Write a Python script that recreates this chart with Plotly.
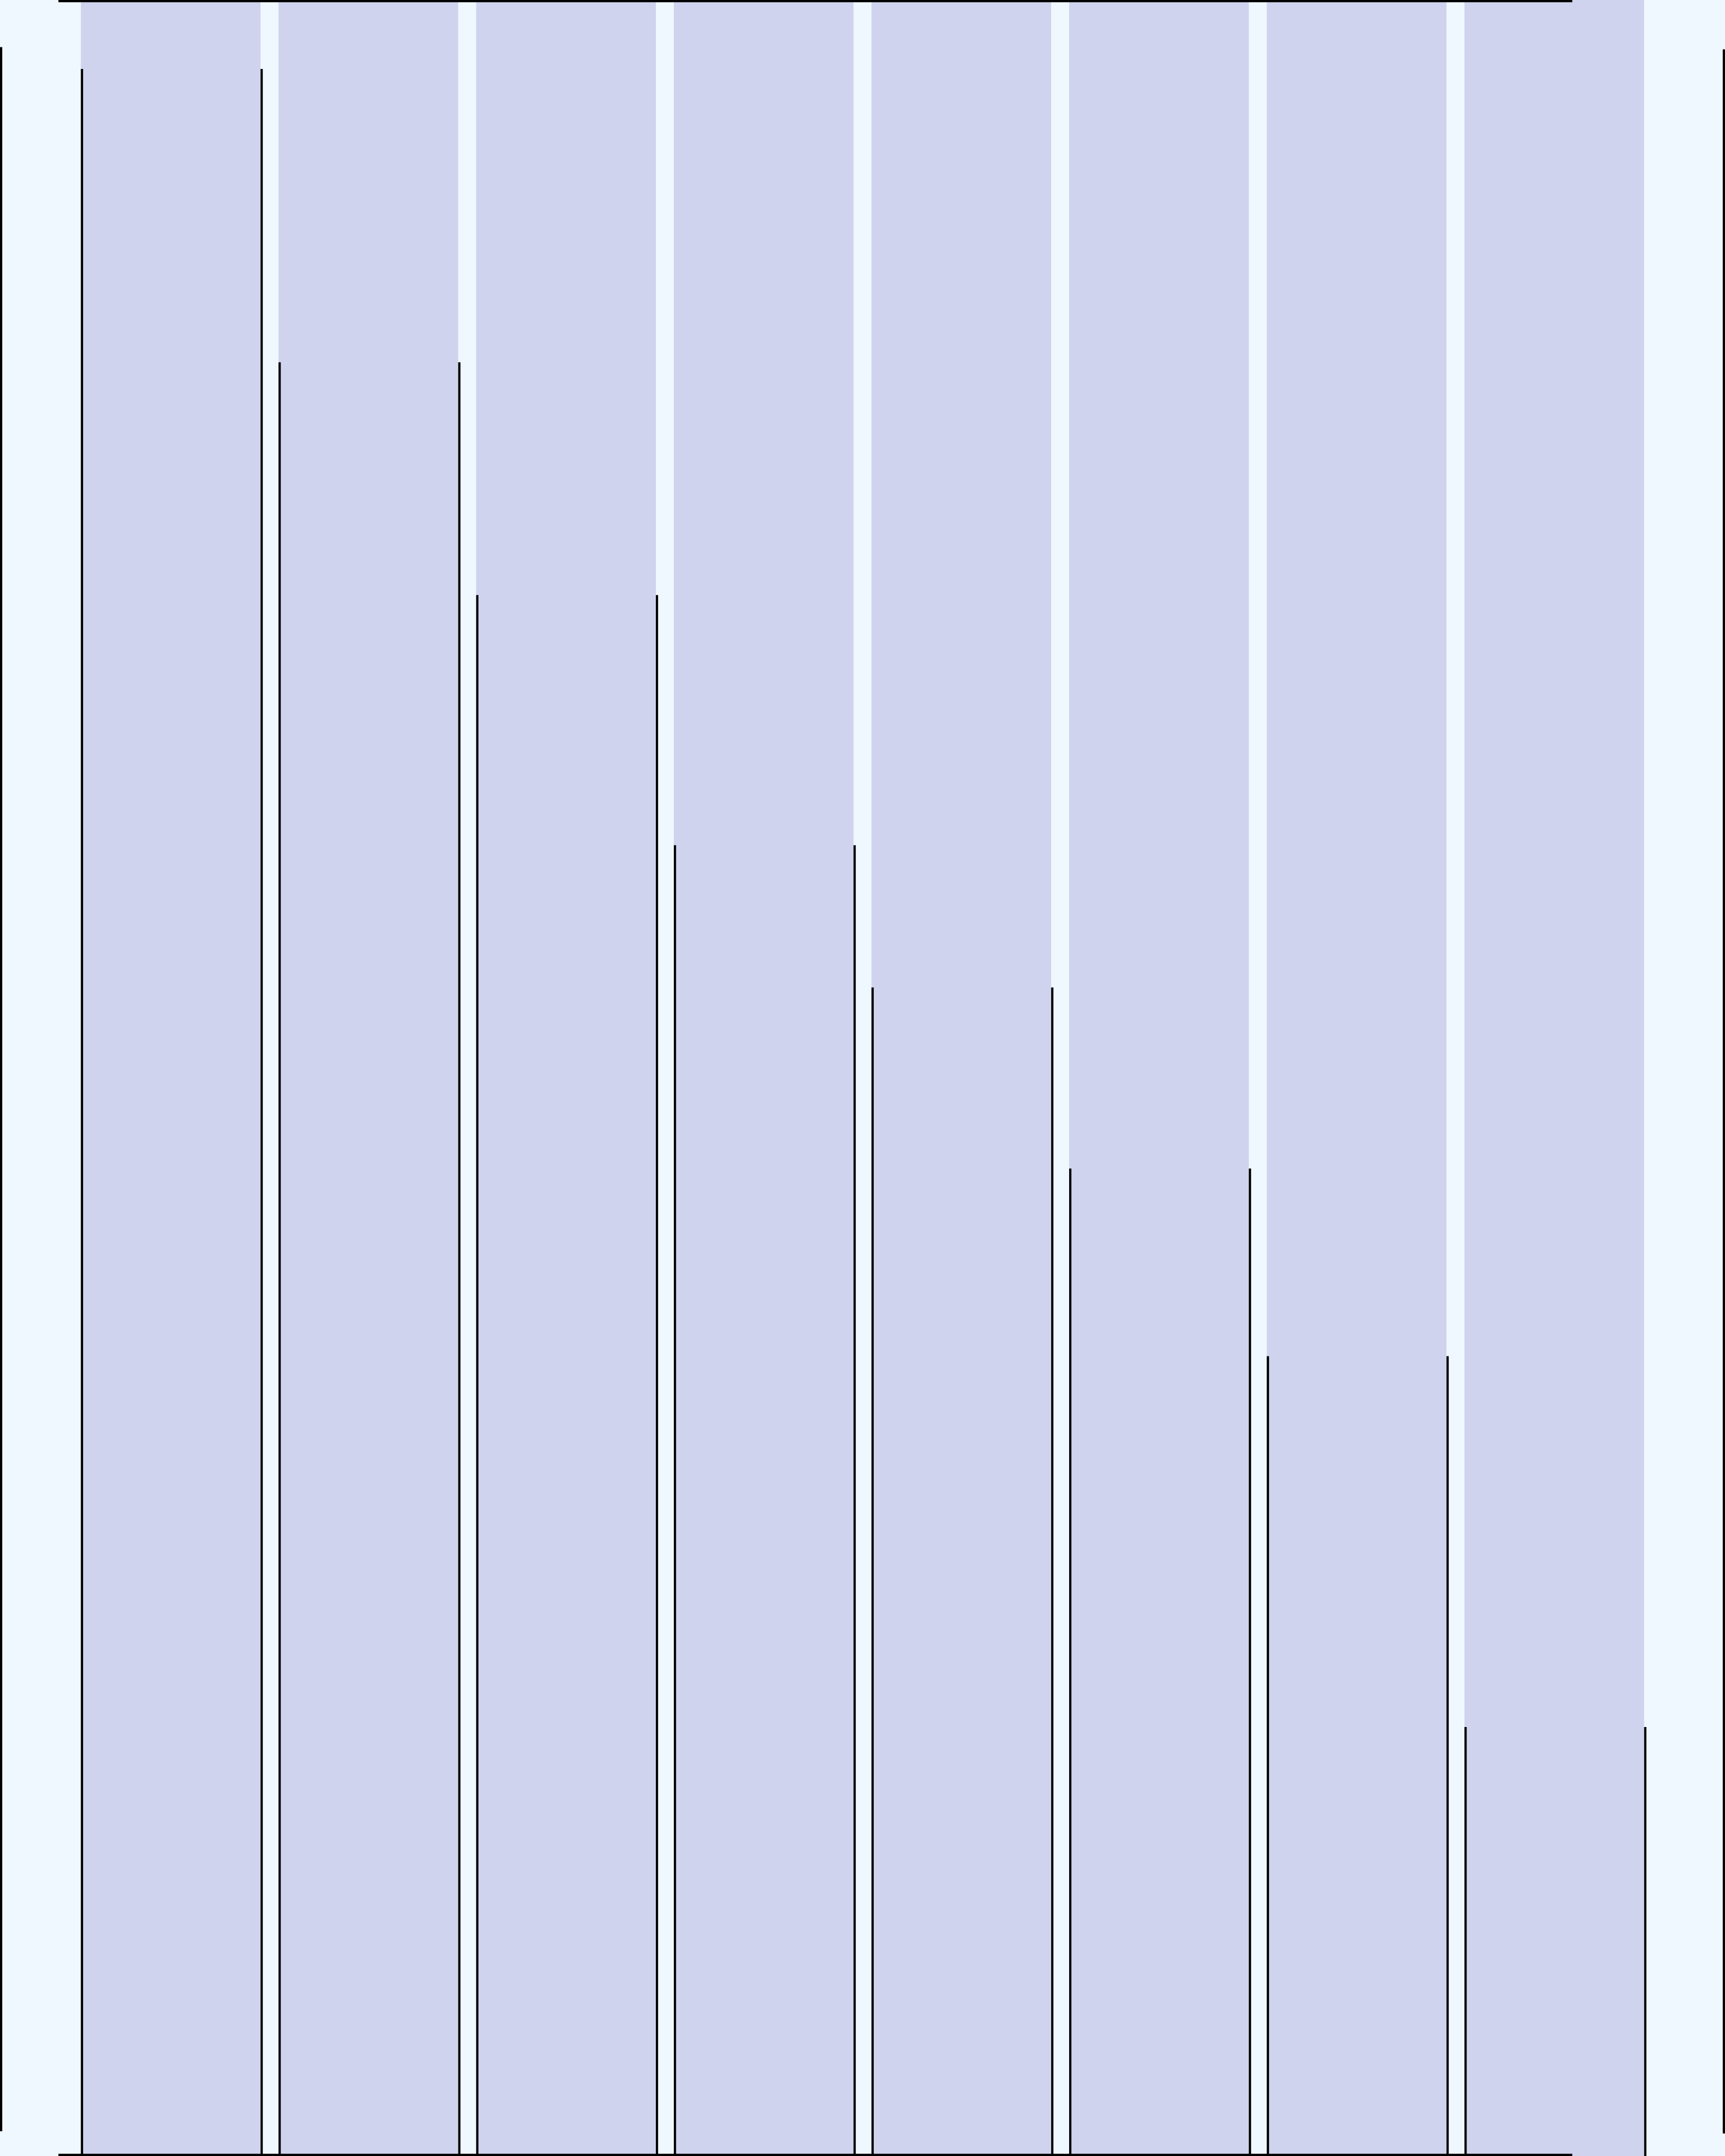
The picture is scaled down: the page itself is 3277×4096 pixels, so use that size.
import plotly.graph_objects as go

# ---- data ----
categories = ["A", "B", "C", "D", "E", "F", "G", "H"]
values = [96.8, 83.2, 72.4, 60.8, 54.2, 45.8, 37.1, 19.9]
column_max = [100, 100, 100, 100, 100, 100, 100, 100]

# ---- geometry / style ----
S = 3277 / 3840
W, H = 3277, 4096
PITCH_PX = 440.0            # reference px per category
COL_W = 400.0 / PITCH_PX    # column width in category units
EDGE_W = 5.0 / PITCH_PX     # edge stroke width in category units
LAVENDER = "#CFD3ED"
BG = "#F0F8FF"

fig = go.Figure()

# full-height lavender columns
fig.add_trace(go.Bar(
    x=categories, y=column_max,
    width=COL_W, offset=-COL_W / 2,
    marker=dict(color=LAVENDER, line=dict(width=0)),
    hoverinfo="skip", showlegend=False,
))

# left edge strokes (height = value)
fig.add_trace(go.Bar(
    x=categories, y=values,
    width=EDGE_W, offset=-COL_W / 2,
    marker=dict(color="black", line=dict(width=0)),
    showlegend=False,
))

# right edge strokes (height = value)
fig.add_trace(go.Bar(
    x=categories, y=values,
    width=EDGE_W, offset=COL_W / 2,
    marker=dict(color="black", line=dict(width=0)),
    showlegend=False,
))

# x range so that category i is centred at 380 + 440*i reference px over a 3840 px wide plot
x0 = -380.0 / PITCH_PX
x1 = x0 + 3840.0 / PITCH_PX

def px(v):
    return v / 3840.0

def py(v):
    return 1 - v / 4800.0

frame = [
    # top rule
    dict(x0=px(130), x1=px(3500), y0=py(5), y1=py(0)),
    # bottom rule
    dict(x0=px(130), x1=px(3500), y0=py(4800), y1=py(4795)),
    # left rule
    dict(x0=px(0), x1=px(5), y0=py(4745), y1=py(105)),
    # right rule
    dict(x0=px(3835), x1=px(3840), y0=py(4750), y1=py(110)),
]
shapes = [dict(type="rect", xref="paper", yref="paper", fillcolor="black",
               line=dict(width=0), layer="above", **f) for f in frame]

fig.update_layout(
    width=W, height=H,
    margin=dict(l=0, r=0, t=0, b=0, pad=0),
    paper_bgcolor=BG, plot_bgcolor=BG,
    barmode="overlay",
    showlegend=False,
    xaxis=dict(range=[x0, x1], visible=False, showgrid=False, zeroline=False,
               type="category", fixedrange=True),
    yaxis=dict(range=[0, 100], visible=False, showgrid=False, zeroline=False,
               fixedrange=True),
    shapes=shapes,
    hovermode=False,
)

fig.write_html("out.html", config={"displayModeBar": False})
